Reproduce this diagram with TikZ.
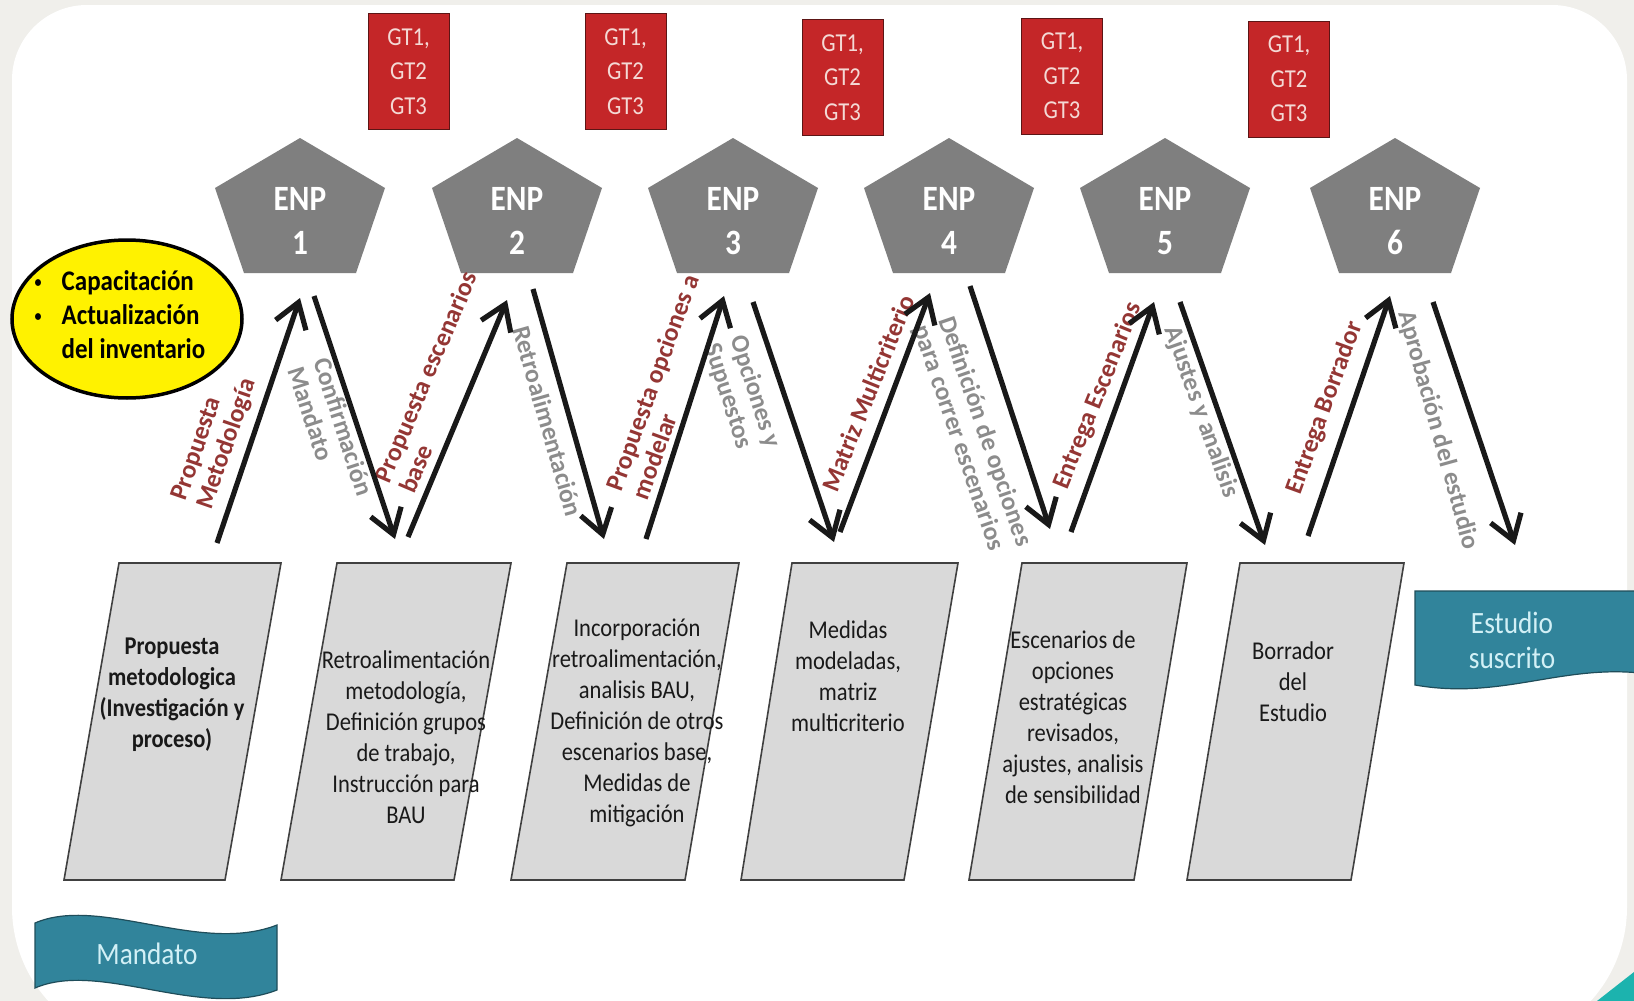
\documentclass[tikz,border=0pt]{standalone}
\usepackage{fontspec}
\setmainfont{Carlito}[FakeStretch=0.88]
\newfontfamily\lblfont{Carlito}
\usetikzlibrary{arrows.meta,shapes.geometric}

\definecolor{pagegray}{HTML}{F0EFEB}
\definecolor{gtred}{HTML}{C42628}
\definecolor{gtdark}{HTML}{5C1515}
\definecolor{gttext}{HTML}{F4D9D5}
\definecolor{enpgray}{HTML}{7F7F7F}
\definecolor{boxgray}{HTML}{D9D9D9}
\definecolor{boxline}{HTML}{404040}
\definecolor{upred}{HTML}{943634}
\definecolor{downgray}{HTML}{8C8C8C}
\definecolor{bannerteal}{HTML}{31849B}
\definecolor{bannerline}{HTML}{1F4D5A}
\definecolor{bannertext}{HTML}{D2F0F6}
\definecolor{cornerteal}{HTML}{1CB3AE}

\begin{document}
\begin{tikzpicture}[x=0.5pt, y=-0.5pt,
  gtbox/.style={shape=rectangle, draw=gtdark, fill=gtred, text=gttext,
    minimum width=40.5pt, minimum height=58pt, inner sep=0pt, align=center,
    font=\fontsize{12.9}{17.2}\selectfont},
  enptext/.style={text=white, align=center, inner sep=0pt,
    font=\fontsize{17.8}{22}\selectfont\bfseries},
  stepbox/.style={draw=boxline, fill=boxgray, line width=0.8pt},
  boxtext/.style={align=center, text=black!90, inner sep=0pt,
    font=\fontsize{12.8}{15.5}\selectfont},
  uplabel/.style={align=left, text=upred, inner sep=0pt,
    font=\lblfont\fontsize{12.8}{13.5}\selectfont\bfseries},
  downlabel/.style={uplabel, text=downgray},
  banner/.style={fill=bannerteal, draw=bannerline, line width=0.6pt},
  bannerlabel/.style={align=center, text=bannertext, inner sep=0pt,
    font=\fontsize{15.5}{17.5}\selectfont},
  flowarrow/.style={every edge/.style={draw=black!90, line width=2.6pt,
    -{Straight Barb[length=12pt, width=16pt]}}}
]
\useasboundingbox (0,0) rectangle (1634,1001);

% page and panel
\fill[pagegray] (0,0) rectangle (1634,1001);
\fill[white] (12,80) arc[start angle=180, end angle=270, radius=75]
  -- (1552,5) arc[start angle=270, end angle=360, radius=75]
  -- (1627,907) arc[start angle=0, end angle=90, radius=140]
  -- (152,1047) arc[start angle=90, end angle=180, radius=140] -- cycle;
\fill[cornerteal] (1597,1001) -- (1634,972) -- (1634,1001) -- cycle;

% banners
\draw[banner] (35,923) .. controls (100,895) and (200,955) .. (277,925)
  -- (277,990) .. controls (200,1020) and (100,960) .. (35,988) -- cycle;
\node[bannerlabel] at (147,954)
(mandato) {Mandato};

\draw[banner] (1415,591) -- (1640,591) -- (1640,673)
  .. controls (1560,665) and (1500,700) .. (1415,685) -- cycle;
\node[bannerlabel] at (1512,640)
(estudio) {Estudio\\suscrito};

% working groups
\node[gtbox] at (408.5,71.5)
(gt1) {GT1,\\GT2\\GT3};
\node[gtbox] at (625.5,71.5)
(gt2) {GT1,\\GT2\\GT3};
\node[gtbox] at (842.5,77.5)
(gt3) {GT1,\\GT2\\GT3};
\node[gtbox] at (1062,76)
(gt4) {GT1,\\GT2\\GT3};
\node[gtbox] at (1289,79)
(gt5) {GT1,\\GT2\\GT3};

% ENP pentagons
\fill[enpgray] (300,138) -- ++(85,50) -- ++(-29,85) -- ++(-112,0) -- ++(-29,-85) -- cycle;
\fill[enpgray] (517,138) -- ++(85,50) -- ++(-29,85) -- ++(-112,0) -- ++(-29,-85) -- cycle;
\fill[enpgray] (733,138) -- ++(85,50) -- ++(-29,85) -- ++(-112,0) -- ++(-29,-85) -- cycle;
\fill[enpgray] (949,138) -- ++(85,50) -- ++(-29,85) -- ++(-112,0) -- ++(-29,-85) -- cycle;
\fill[enpgray] (1165,138) -- ++(85,50) -- ++(-29,85) -- ++(-112,0) -- ++(-29,-85) -- cycle;
\fill[enpgray] (1395,138) -- ++(85,50) -- ++(-29,85) -- ++(-112,0) -- ++(-29,-85) -- cycle;
\node[enptext] at (300,221)
(p1) {ENP\\1};
\node[enptext] at (517,221)
(p2) {ENP\\2};
\node[enptext] at (733,221)
(p3) {ENP\\3};
\node[enptext] at (949,221)
(p4) {ENP\\4};
\node[enptext] at (1165,221)
(p5) {ENP\\5};
\node[enptext] at (1395,221)
(p6) {ENP\\6};

% capacitacion
\node[shape=ellipse, draw=black, line width=1.75pt, fill=yellow,
  minimum width=115pt, minimum height=79pt, inner sep=0pt] at (127,319)
(cap) {};
\node[inner sep=0pt, font=\fontsize{14.2}{17}\selectfont\bfseries] at (120,318)
(captext) {\begin{tabular}{@{}l@{\hspace{10pt}}l@{}}
  \raisebox{1.5pt}{\fontsize{8}{8}\selectfont\textbullet} & Capacitación\\
  \raisebox{1.5pt}{\fontsize{8}{8}\selectfont\textbullet} & Actualización\\
              & del inventario
  \end{tabular}};

% products
\draw[stepbox] (119,563) -- (281,563) -- (225,880) -- (64,880) -- cycle;
\draw[stepbox] (337,563) -- (511,563) -- (454,880) -- (281,880) -- cycle;
\draw[stepbox] (567,563) -- (739,563) -- (685,880) -- (511,880) -- cycle;
\draw[stepbox] (792,563) -- (958,563) -- (904,880) -- (741,880) -- cycle;
\draw[stepbox] (1022,563) -- (1187,563) -- (1134,880) -- (969,880) -- cycle;
\draw[stepbox] (1240,563) -- (1404,563) -- (1351,880) -- (1187,880) -- cycle;
\coordinate (b1) at (172,721.5);
\coordinate (b2) at (396,721.5);
\coordinate (b3) at (625.5,721.5);
\coordinate (b4) at (849,721.5);
\coordinate (b5) at (1078,721.5);
\coordinate (b6) at (1295.5,721.5);

\node[boxtext, font=\fontsize{12.8}{15.5}\selectfont\bfseries] at (172,695)
(t1) {Propuesta\\metodologica\\(Investigación y\\proceso)};
\node[boxtext] at (406,737)
(t2) {Retroalimentación\\metodología,\\Definición grupos\\de trabajo,\\Instrucción para\\BAU};
\node[boxtext] at (637,723)
(t3) {Incorporación\\retroalimentación,\\analisis BAU,\\Definición de otros\\escenarios base,\\Medidas de\\mitigación};
\node[boxtext] at (848,676)
(t4) {Medidas\\modeladas,\\matriz\\multicriterio};
\node[boxtext] at (1073,717)
(t5) {Escenarios de\\opciones\\estratégicas\\revisados,\\ajustes, analisis\\de sensibilidad};
\node[boxtext] at (1293,682)
(t6) {Borrador\\del\\Estudio};

% arrow labels
\node[uplabel, rotate=71] at (215,440)
(up1) {Propuesta\\Metodología};
\node[downlabel, rotate=-72] at (331,431)
(down1) {Confirmación\\Mandato};
\node[uplabel, rotate=67] at (438,382)
(up2) {Propuesta escenarios\\base};
\node[downlabel, rotate=-74] at (548,421)
(down2) {Retroalimentación};
\node[uplabel, rotate=70] at (665,387)
(up3) {Propuesta opciones a\\modelar};
\node[downlabel, rotate=-72] at (742,396)
(down3) {Opciones y\\Supuestos};
\node[uplabel, rotate=68] at (868,393)
(up4) {Matriz Multicriterio};
\node[downlabel, rotate=-71] at (972,436)
(down4) {Definición de opciones\\para correr escenarios};
\node[uplabel, rotate=68] at (1098,396)
(up5) {Entrega Escenarios};
\node[downlabel, rotate=-70.5] at (1201,412)
(down5) {Ajustes y analisis};
\node[uplabel, rotate=70] at (1325,408)
(up6) {Entrega Borrador};
\node[downlabel, rotate=-74.5] at (1438,430)
(down6) {Aprobación del estudio};

% arrows
\path[flowarrow]
  ([shift={(45,-178.5)}]b1)  edge ([shift={(0,77)}]p1.center)
  ([shift={(12,-184.5)}]b2)  edge ([shift={(-10,79)}]p2.center)
  ([shift={(20.5,-182.5)}]b3) edge ([shift={(-9,75)}]p3.center)
  ([shift={(-9,-189.5)}]b4)  edge ([shift={(-19,72)}]p4.center)
  ([shift={(-7,-189.5)}]b5)  edge ([shift={(-11,81)}]p5.center)
  ([shift={(12.5,-185.5)}]b6) edge ([shift={(-5,75)}]p6.center)
;
\path[flowarrow]
  ([shift={(14,75)}]p1.center) edge ([shift={(-1,-182.5)}]b2)
  ([shift={(16,68)}]p2.center) edge ([shift={(-21.5,-182.5)}]b3)
  ([shift={(20,81)}]p3.center) edge ([shift={(-15,-179.5)}]b4)
  ([shift={(21,65)}]p4.center) edge ([shift={(-28,-192.5)}]b5)
  ([shift={(15,81)}]p5.center) edge ([shift={(-30.5,-176.5)}]b6)
  ([shift={(38,81)}]p6.center) edge ([shift={(3,-95)}]estudio.center)
;
\end{tikzpicture}
\end{document}
